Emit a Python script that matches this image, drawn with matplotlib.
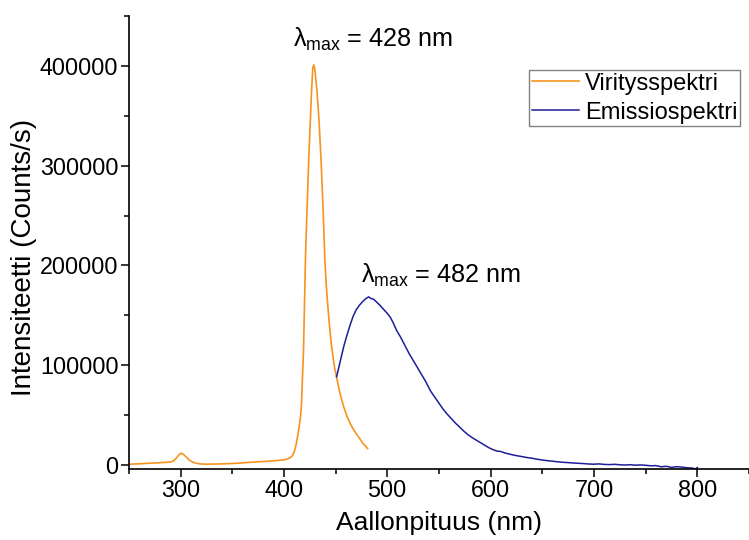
import numpy as np
import matplotlib
matplotlib.use("Agg")
import matplotlib.pyplot as plt
from matplotlib.ticker import MultipleLocator

# Fontit: Arial-tyylinen
plt.rcParams['font.family'] = ['Liberation Sans', 'DejaVu Sans']
plt.rcParams['mathtext.fontset'] = 'custom'
plt.rcParams['mathtext.rm'] = 'Liberation Sans'
plt.rcParams['mathtext.it'] = 'Liberation Sans:italic'
plt.rcParams['mathtext.bf'] = 'Liberation Sans:bold'

# ========================
# Data (luettu kuvasta)
# ========================
# Viritysspektri
exc_nm = [250, 255, 260, 265, 270, 275, 280, 285, 290, 293, 296, 299, 301, 303,
          306, 309, 312, 316, 320, 325, 330, 335, 340, 345, 350, 355, 360, 365,
          370, 375, 380, 385, 390, 395, 400, 403, 406, 408, 410, 412, 414, 416,
          417, 419, 421, 424, 426.7, 428, 429, 430, 432, 434, 436, 438, 439.5,
          441, 443.4, 446, 449, 451, 453, 455, 458, 461, 464.4, 468, 471, 474, 477, 481]
exc_int = [700, 1000, 1200, 1500, 1800, 2000, 2300, 2600, 3000, 3800, 7000, 10800, 11800, 10500,
           7500, 4500, 2800, 1600, 1000, 800, 900, 1000, 1100, 1300, 1500, 1800, 2100, 2500,
           2900, 3200, 3500, 3900, 4200, 4600, 5200, 5900, 7200, 9000, 13000, 21000, 33000, 47000,
           60000, 115000, 212000, 305000, 373000, 398000, 401000, 396000, 375000, 345000, 305000, 255000, 210000,
           180000, 148000, 120000, 98000, 88000, 78000, 69000, 58000, 49000, 41000, 34500, 30000, 25500, 21000, 16500]

# Emissiospektri
emi_nm = [451, 453, 455, 458, 461, 464, 467, 470, 473, 476, 479, 482, 484, 487, 490,
          493, 496, 500, 503, 506, 509, 513, 517, 521, 525, 529, 533, 537, 542, 546,
          550, 554, 558, 562, 566, 570, 574, 578, 582, 586, 590, 594, 598, 602, 606,
          610, 614, 618, 622, 626, 630, 635, 640, 645, 650, 655, 660, 665, 670, 675,
          680, 685, 690, 695, 700, 705, 710, 715, 720, 725, 730, 735, 740, 745, 750,
          755, 760, 765, 770, 775, 780, 785, 790, 795, 798, 800]
emi_int = [88500, 97000, 106000, 119000, 130000, 140000, 149000, 155500, 160000, 163500, 166500, 168500, 167000, 166000, 163000,
           160000, 156500, 152000, 148000, 142000, 135000, 128000, 120000, 112000, 105000, 98000, 91000, 84000, 74000, 68000,
           62000, 56000, 51000, 46500, 42000, 38000, 34000, 30500, 27500, 25000, 22500, 20000, 17500, 15500, 14000,
           13500, 12000, 11000, 10000, 9200, 8500, 7500, 6800, 5800, 5000, 4300, 3800, 3200, 2700, 2400,
           2000, 1700, 1400, 1000, 800, 1100, 600, 400, 700, 200, 0, 300, -200, 100, -300,
           -800, -600, -1800, -1300, -2400, -1700, -2100, -2800, -3000, -4000, -2500]

labels = ['Viritysspektri', 'Emissiospektri']
peak_texts = ['λ$_{\\mathrm{max}}$ = 428 nm', 'λ$_{\\mathrm{max}}$ = 482 nm']

orange = '#F7931E'
navy = '#1E1E9A'

# ========================
# Kuva
# ========================
fig = plt.figure(figsize=(7.49, 5.40), dpi=100)
ax = fig.add_axes([0.172, 0.1315, 0.828, 0.839])

ax.plot(exc_nm, exc_int, color=orange, lw=1.2, label=labels[0])
ax.plot(emi_nm, emi_int, color=navy, lw=1.1, label=labels[1])

ax.set_xlim(250, 850)
ax.set_ylim(-4000, 450000)

ax.xaxis.set_major_locator(MultipleLocator(100))
ax.xaxis.set_minor_locator(MultipleLocator(50))
ax.yaxis.set_major_locator(MultipleLocator(100000))
ax.yaxis.set_minor_locator(MultipleLocator(50000))

for s in ['top', 'right']:
    ax.spines[s].set_visible(False)
for s in ['left', 'bottom']:
    ax.spines[s].set_linewidth(1.2)

ax.tick_params(which='major', direction='out', length=6, width=1.1, labelsize=16.8, pad=1.5)
ax.tick_params(which='minor', direction='out', length=3.6, width=1.1)

ax.set_xlabel('Aallonpituus (nm)', fontsize=19, labelpad=6)
ax.set_ylabel('Intensiteetti (Counts/s)', fontsize=20)
ax.yaxis.set_label_coords(-0.148, 0.468)

# Huippujen merkinnät
ax.text(408.5, 419000, peak_texts[0], fontsize=18.2, ha='left', va='baseline')
ax.text(474.5, 183000, peak_texts[1], fontsize=18.2, ha='left', va='baseline')

leg = ax.legend(loc='upper right', bbox_to_anchor=(0.985, 0.88), borderaxespad=0,
                fontsize=17, handlelength=2.0, handletextpad=0.25, borderpad=0.1,
                labelspacing=0.3, fancybox=False, framealpha=1)
leg.get_frame().set_edgecolor('#808080')
leg.get_frame().set_linewidth(1.0)

fig.savefig('out.png', dpi=100)
